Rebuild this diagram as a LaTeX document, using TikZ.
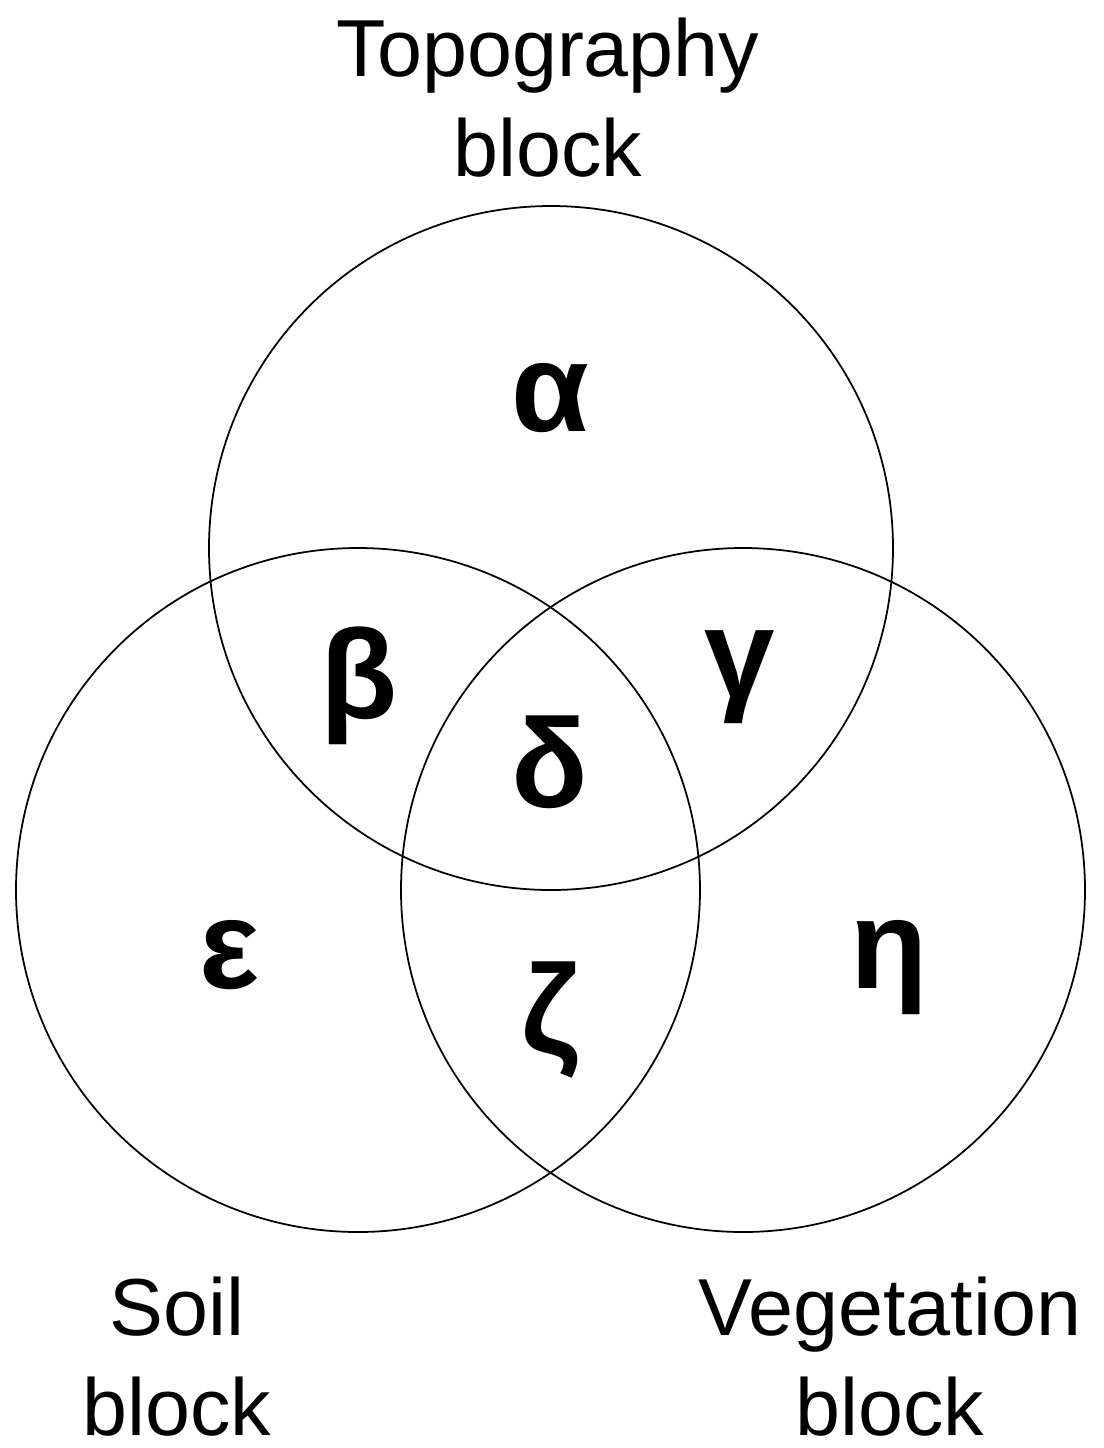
\documentclass[tikz,border=0pt]{standalone}
\usepackage{fontspec}
\setmainfont{Liberation Sans}
\begin{document}
\begin{tikzpicture}[
  every node/.style={inner sep=0pt},
  blockcircle/.style={draw, circle, line width=0.5pt, minimum size=6.84cm},
  blocklabel/.style={align=center, font=\fontsize{23}{28.5}\selectfont},
  region/.style={font=\fontsize{36}{43}\selectfont\bfseries}
]
  \useasboundingbox (0,0) rectangle (11.04,-14.48);

  % the three blocks
  \node[blockcircle] (topo) at (5.51,-5.48) {};
  \node[blockcircle] (soil) at (3.58,-8.90) {};
  \node[blockcircle] (veg)  at (7.43,-8.90) {};

  \node[blocklabel] (topolabel) at (5.48,-0.98) {Topography\\block};
  \node[blocklabel] (soillabel) at (1.77,-13.57) {Soil\\block};
  \node[blocklabel] (veglabel)  at (8.90,-13.57) {Vegetation\\block};

  % regions of the diagram
  \node[region] (alpha) at (5.50,-3.98) {α};
  \node[region] (beta)  at (3.59,-6.86) {β};
  \node[region] (gamma) at (7.40,-6.77) {γ};
  \node[region] (delta) at (5.50,-7.62) {δ};
  \node[region] (eps)   at (2.30,-9.55) {ε};
  \node[region] (zeta)  at (5.51,-10.20) {ζ};
  \node[region] (eta)   at (8.89,-9.68) {η};
\end{tikzpicture}
\end{document}
